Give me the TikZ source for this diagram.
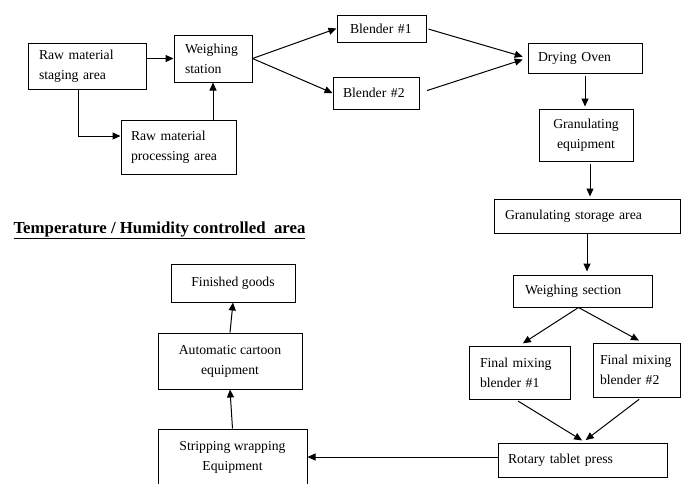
\documentclass[tikz,border=0pt]{standalone}
\usepackage{fontspec}
\setmainfont{Liberation Serif}
\usetikzlibrary{arrows.meta}
\newcommand{\boxfont}{\fontsize{13.7}{20}\selectfont}
\tikzset{
	box/.style={draw, line width=1pt, inner sep=0pt, font=\boxfont},
	lbox/.style 2 args={box, align=left, text width=#1, inner xsep=#2},
	cbox/.style={box, align=center},
	arr/.style={-{Triangle[length=8pt,width=7pt]}, line width=1pt},
}

\begin{document}
\begin{tikzpicture}[x=1pt,y=-1pt]
		\useasboundingbox (0,0) rectangle (681,483);
		\clip (0,0) rectangle (681,483);
		\node[lbox={96pt}{11pt}, minimum height=46pt] (stage) at (87,66) {Raw material\\staging area};
		\node[lbox={56pt}{11pt}, minimum height=47pt] (weigh) at (213,58.5) {Weighing\\station};
		\node[lbox={95pt}{10pt}, minimum height=54pt] (proc) at (178.5,147) {Raw material\\processing area};
		\node[lbox={63pt}{13pt}, minimum height=27pt] (blendA) at (381.5,28.5) {Blender \#1};
		\node[lbox={66pt}{10pt}, minimum height=32pt] (blendB) at (376,93) {Blender \#2};
		\node[lbox={94pt}{10pt}, minimum height=30pt] (oven) at (585,58) {Drying Oven};
		\node[cbox, minimum width=94pt, minimum height=52pt] (granul) at (586,135) {Granulating\\equipment};
		\node[lbox={164pt}{11pt}, minimum height=34pt] (store) at (587,216) {Granulating storage area};
		\node[lbox={115pt}{12pt}, minimum height=32pt] (wsect) at (582.5,291) {Weighing section};
		\node[lbox={79pt}{11pt}, minimum height=53pt] (mixA) at (519.5,372.5) {Final mixing\\blender \#1};
		\node[lbox={73pt}{7pt}, minimum height=54pt] (mixB) at (636.5,370) {Final mixing\\blender \#2};
		\node[lbox={149pt}{10pt}, minimum height=34pt] (press) at (582.5,460) {Rotary tablet press};
		\node[cbox, minimum width=124pt, minimum height=38pt] (goods) at (233,283) {Finished goods};
		\node[cbox, minimum width=144pt, minimum height=56pt] (carton) at (230,361) {Automatic cartoon\\equipment};
		\node[cbox, minimum width=149pt, minimum height=57pt] (wrap) at (232.5,457.5) {Stripping wrapping\\Equipment};
		\node[anchor=base west, font=\bfseries\fontsize{16.8}{18}\selectfont] (title) at (10,233) {\underline{Temperature / Humidity controlled\ \ area}};

		\draw[arr] (stage.east |- weigh.west) -- (weigh.west);
		\draw[arr] ([xshift=-9pt]stage.south) |- ([yshift=11pt]proc.west);
		\draw[arr] (proc.north -| weigh.south) -- (weigh.south);
		\draw[arr] (weigh.east) -- (blendA.west);
		\draw[arr] (weigh.east) -- (blendB.west);
		\draw[arr, shorten <=2pt, shorten >=5pt] (blendA.east) -- (oven.west);
		\draw[arr, shorten <=8pt, shorten >=5pt] (blendB.east) -- (oven.west);
		\draw[arr, shorten <=2pt, shorten >=2pt] (oven.south) -- (oven.south |- granul.north);
		\draw[arr, shorten <=2pt, shorten >=2pt] ([xshift=4pt]granul.south) -- ([xshift=4pt]granul.south |- store.north);
		\draw[arr, shorten >=3pt] (store.south) -- (store.south |- wsect.north);
		\draw[arr, shorten >=4pt] ([xshift=-4pt]wsect.south) -- (mixA.north);
		\draw[arr, shorten >=4pt] ([xshift=-4pt]wsect.south) -- ([xshift=6pt]mixB.north);
		\draw[arr, shorten <=3pt, shorten >=4pt] ([xshift=-4pt]mixA.south) -- ([xshift=3pt]press.north);
		\draw[arr, shorten <=3pt, shorten >=4pt] ([xshift=5pt]mixB.south) -- (press.north);
		\draw[arr] ([yshift=3pt]press.west) -- ([yshift=3pt]press.west -| wrap.east);
		\draw[arr] (wrap.north) -- (carton.south);
		\draw[arr] (carton.north) -- (goods.south);
	\end{tikzpicture}
\end{document}
